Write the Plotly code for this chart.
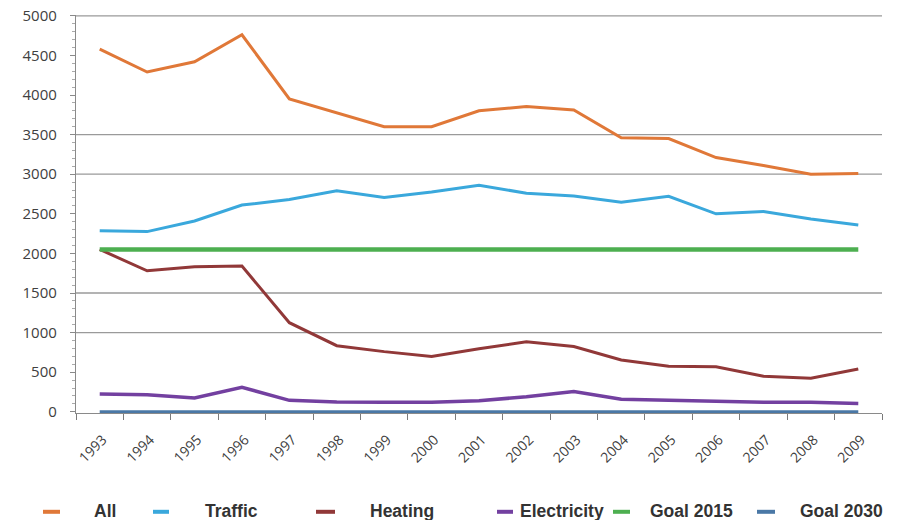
import plotly.graph_objects as go

# Emissions by sector, 1993-2009
YEARS = ["1993", "1994", "1995", "1996", "1997", "1998", "1999", "2000", "2001",
         "2002", "2003", "2004", "2005", "2006", "2007", "2008", "2009"]

ALL = [4580, 4290, 4420, 4760, 3950, 3770, 3600, 3600, 3800,
       3855, 3810, 3460, 3450, 3210, 3110, 3000, 3010]
TRAFFIC = [2285, 2275, 2410, 2610, 2680, 2790, 2705, 2775, 2860,
           2760, 2725, 2645, 2720, 2500, 2530, 2435, 2360]
HEATING = [2050, 1780, 1830, 1840, 1125, 835, 760, 700, 795,
           885, 825, 655, 575, 570, 450, 425, 540]
ELECTRICITY = [225, 215, 175, 310, 145, 125, 120, 120, 140,
               190, 255, 160, 145, 130, 120, 120, 105]
GOAL_2015 = 2050
GOAL_2030 = 0

SERIES_NAMES = ["All", "Traffic", "Heating", "Electricity", "Goal 2015", "Goal 2030"]
GRID_VALUES = [1000, 1500, 3000, 3500, 5000]
Y_TICKS = [0, 500, 1000, 1500, 2000, 2500, 3000, 3500, 4000, 4500, 5000]

series = [
    ALL,
    TRAFFIC,
    HEATING,
    ELECTRICITY,
    [GOAL_2015] * len(YEARS),
    [GOAL_2030] * len(YEARS),
]
colors = ["#E07838", "#3AA8DC", "#913838", "#7340A0", "#4DAF50", "#4A78A6"]
widths = [3, 3, 3, 3.5, 4.5, 3]

fig = go.Figure()
for name, vals, col, w in zip(SERIES_NAMES, series, colors, widths):
    fig.add_trace(go.Scatter(
        x=YEARS, y=vals, name=name, mode="lines",
        line=dict(color=col, width=w), showlegend=False,
    ))

# horizontal gridlines
for gv in GRID_VALUES:
    fig.add_shape(type="line", xref="paper", yref="y", x0=0, x1=1, y0=gv, y1=gv,
                  line=dict(color="#9a9a9a", width=1.3), layer="below")

# legend row drawn below the plot
PLOT_L, PLOT_W = 76, 806
PLOT_B, PLOT_H = 413.2, 398
def px(x):
    return (x - PLOT_L) / PLOT_W
def py(y):
    return (PLOT_B - y) / PLOT_H

legend_pos = [(43, 60, 92), (153, 169, 203), (316, 335, 368),
              (497, 513, 518), (613, 630, 648), (757, 775, 798)]
for name, col, (s0, s1, tx) in zip(SERIES_NAMES, colors, legend_pos):
    fig.add_shape(type="line", xref="paper", yref="paper",
                  x0=px(s0), x1=px(s1), y0=py(512), y1=py(512),
                  line=dict(color=col, width=4))
    fig.add_annotation(text="<b>" + name + "</b>", xref="paper", yref="paper",
                       x=px(tx), y=py(511), xanchor="left", yanchor="middle",
                       showarrow=False,
                       font=dict(family="Liberation Sans", size=17.5, color="#333333"))

fig.update_layout(
    template="none",
    width=899, height=520,
    margin=dict(l=76, r=17, t=15, b=107),
    paper_bgcolor="white", plot_bgcolor="white",
    font=dict(family="Open Sans", color="#404040"),
)
fig.update_xaxes(
    type="category", range=[-0.5, len(YEARS) - 0.5], tickson="boundaries",
    showgrid=False, zeroline=False,
    showline=True, linecolor="#8a8a8a", linewidth=1,
    ticks="outside", ticklen=6, tickcolor="#7a7a7a",
    ticklabelstandoff=12, ticklabelshift=3,
    tickangle=-45, tickfont=dict(family="Open Sans", size=14, color="#404040"),
)
fig.update_yaxes(
    range=[-15, 5010], tickvals=Y_TICKS, showgrid=False, zeroline=False,
    showline=True, linecolor="#8a8a8a", linewidth=1.3,
    ticks="outside", ticklen=5, tickcolor="#8a8a8a",
    ticklabelstandoff=10,
    tickfont=dict(family="Open Sans", size=15, color="#404040"),
    minor=dict(dtick=100, ticks="outside", ticklen=3, tickcolor="#aaaaaa",
               showgrid=False),
)

fig.write_html("out.html")
